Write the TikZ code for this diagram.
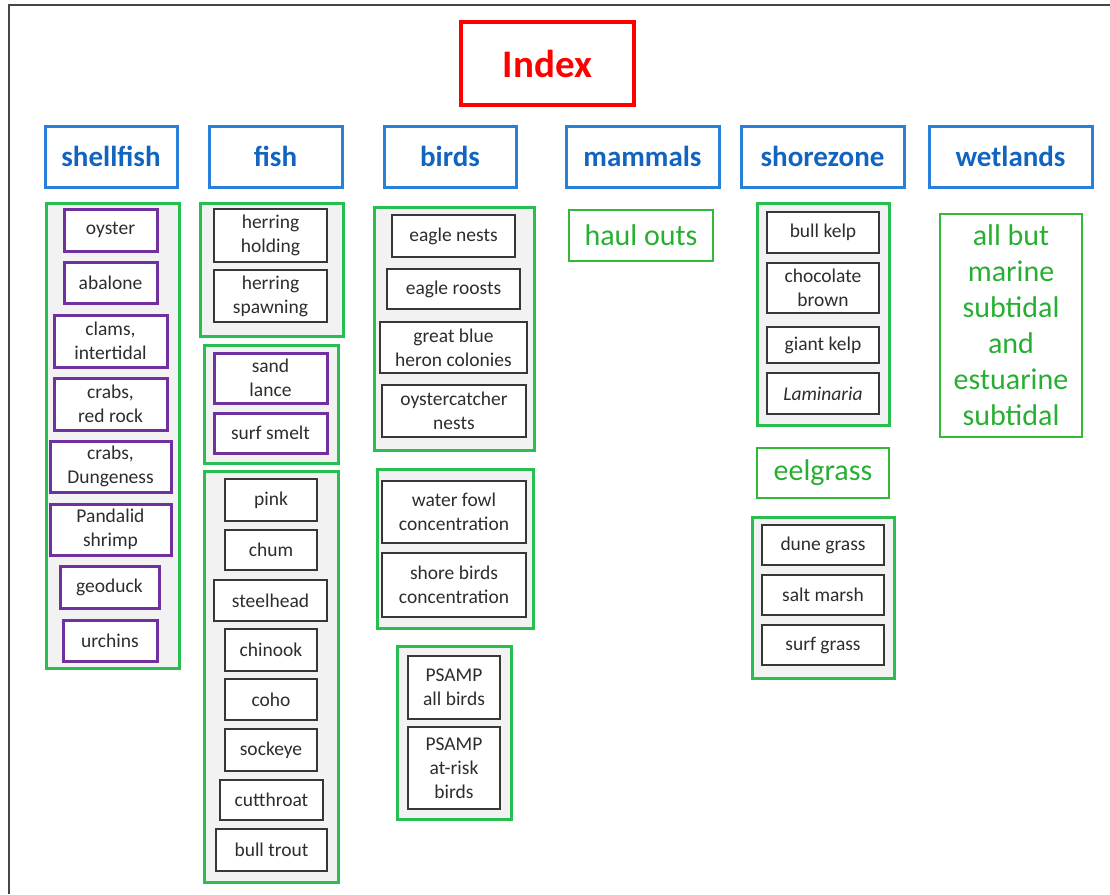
\documentclass[tikz,border=0pt]{standalone}
\usepackage{fontspec}
\setmainfont{Carlito}
\definecolor{catblue}{RGB}{40,128,218}
\definecolor{cattext}{RGB}{18,100,190}
\definecolor{grpgreen}{RGB}{40,190,80}
\definecolor{txtgreen}{RGB}{40,175,50}
\definecolor{boxgreen}{RGB}{50,185,55}
\definecolor{grpfill}{RGB}{242,242,242}
\definecolor{itemborder}{RGB}{55,55,55}
\definecolor{itemtext}{RGB}{45,45,45}
\definecolor{itempurple}{RGB}{112,48,160}
\definecolor{framegray}{RGB}{70,70,70}
\newcommand\mybox[7]{\node[#2, minimum width={(#5)-(#3)}, minimum height={(#6)-(#4)}] (#1) at ({((#3)+(#5))/2},{((#4)+(#6))/2}) {#7};}
\begin{document}
\begin{tikzpicture}[x=1pt,y=-1pt,
  idx/.style={draw=red, line width=3.5pt, text=red, inner sep=0pt, font=\bfseries\fontsize{39pt}{44pt}\selectfont},
  cat/.style={draw=catblue, line width=3pt, text=cattext, inner sep=0pt, font=\bfseries\fontsize{29pt}{34pt}\selectfont},
  grp/.style={draw=grpgreen, line width=3pt, fill=grpfill, inner sep=0pt},
  itm/.style={draw=itemborder, line width=2.8pt, fill=white, text=itemtext, inner sep=0pt, align=center, font=\fontsize{19.5pt}{24pt}\selectfont},
  pitm/.style={itm, draw=itempurple, line width=3pt},
  gtxt/.style={draw=boxgreen, line width=2.5pt, text=txtgreen, inner sep=0pt, align=center, font=\fontsize{30pt}{36pt}\selectfont},
  frameline/.style={draw=framegray, line width=2pt}
]
\useasboundingbox (0,0) rectangle (1110,894);
\draw[frameline] (9,894) -- (9,5) -- (1110,5);

% title
\mybox{index}{idx}{461}{22}{634}{105}{Index}

% categories
\mybox{shellfish}{cat}{45}{126}{177}{187}{shellfish}
\mybox{fish}{cat}{209}{126}{342}{187}{fish}
\mybox{birds}{cat}{384}{126}{516}{187}{birds}
\mybox{mammals}{cat}{566}{126}{719}{187}{mammals}
\mybox{shorezone}{cat}{741}{126}{904}{187}{shorezone}
\mybox{wetlands}{cat}{929}{126}{1092}{187}{wetlands}

% group boxes
\mybox{gshell}{grp}{46}{203}{179}{668}{}
\mybox{gfishA}{grp}{200}{203}{343}{336}{}
\mybox{gfishB}{grp}{204}{345}{338}{463}{}
\mybox{gfishC}{grp}{204}{471}{338}{882}{}
\mybox{gbirdA}{grp}{374}{207}{534}{450}{}
\mybox{gbirdB}{grp}{377}{469}{533}{628}{}
\mybox{gbirdC}{grp}{397}{646}{511}{819}{}
\mybox{gshoreA}{grp}{757}{203}{889}{425}{}
\mybox{gshoreB}{grp}{752}{517}{894}{678}{}

% shellfish
\mybox{oyster}{pitm}{64}{209}{157}{251}{oyster}
\mybox{abalone}{pitm}{64}{262}{157}{303}{abalone}
\mybox{clams}{pitm}{54}{315}{167}{367}{clams,\\intertidal}
\mybox{crabsrr}{pitm}{54}{378}{167}{430}{crabs,\\red rock}
\mybox{crabsd}{pitm}{50}{441}{171}{492}{crabs,\\Dungeness}
\mybox{pandalid}{pitm}{50}{504}{171}{555}{Pandalid\\shrimp}
\mybox{geoduck}{pitm}{60}{566}{159}{608}{geoduck}
\mybox{urchins}{pitm}{63}{620}{157}{661}{urchins}

% fish
\mybox{herrhold}{itm}{214}{209}{327}{262}{herring\\holding}
\mybox{herrspawn}{itm}{214}{270}{327}{322}{herring\\spawning}
\mybox{sandlance}{pitm}{214}{353}{327}{403}{sand\\lance}
\mybox{surfsmelt}{pitm}{214}{413}{327}{453}{surf smelt}
\mybox{pink}{itm}{225}{479}{317}{521}{pink}
\mybox{chum}{itm}{225}{530}{317}{570}{chum}
\mybox{steelhead}{itm}{214}{580}{327}{621}{steelhead}
\mybox{chinook}{itm}{225}{629}{317}{671}{chinook}
\mybox{coho}{itm}{225}{679}{317}{720}{coho}
\mybox{sockeye}{itm}{225}{729}{317}{771}{sockeye}
\mybox{cutthroat}{itm}{220}{780}{323}{820}{cutthroat}
\mybox{bulltrout}{itm}{216}{829}{327}{871}{bull trout}

% birds
\mybox{eaglenests}{itm}{392}{215}{515}{257}{eagle nests}
\mybox{eagleroosts}{itm}{387}{269}{520}{309}{eagle roosts}
\mybox{heron}{itm}{380}{322}{527}{373}{great blue\\heron colonies}
\mybox{oystercatcher}{itm}{382}{385}{526}{437}{oystercatcher\\nests}
\mybox{waterfowl}{itm}{382}{481}{526}{543}{water fowl\\concentration}
\mybox{shorebirds}{itm}{382}{553}{526}{617}{shore birds\\concentration}
\mybox{psampall}{itm}{408}{656}{500}{719}{PSAMP\\all birds}
\mybox{psamprisk}{itm}{408}{727}{500}{809}{PSAMP\\at-risk\\birds}

% mammals
\mybox{haulouts}{gtxt}{569}{210}{713}{261}{haul outs}

% shorezone
\mybox{bullkelp}{itm}{767}{212}{879}{253}{bull kelp}
\mybox{chocbrown}{itm}{767}{263}{879}{313}{chocolate\\brown}
\mybox{giantkelp}{itm}{767}{327}{879}{363}{giant kelp}
\mybox{laminaria}{itm}{767}{373}{879}{414}{\itshape Laminaria}
\mybox{eelgrass}{gtxt}{757}{448}{889}{498}{eelgrass}
\mybox{dunegrass}{itm}{762}{525}{884}{565}{dune grass}
\mybox{saltmarsh}{itm}{762}{575}{884}{615}{salt marsh}
\mybox{surfgrass}{itm}{762}{625}{884}{665}{surf grass}

% wetlands
\mybox{wetall}{gtxt}{940}{214}{1082}{437}{all but\\marine\\subtidal\\and\\estuarine\\subtidal}
\end{tikzpicture}
\end{document}
